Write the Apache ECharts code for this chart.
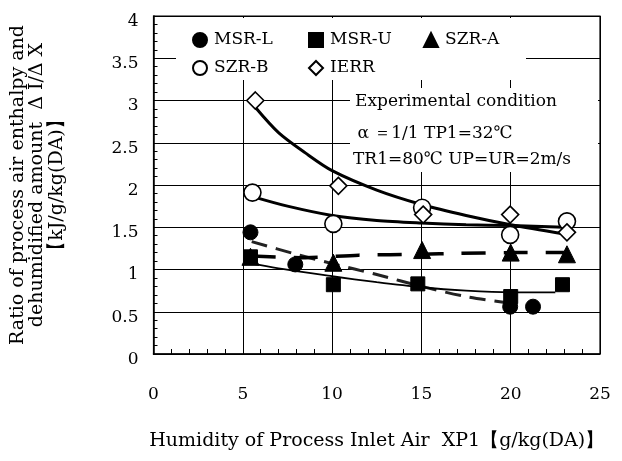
<!DOCTYPE html>
<html><head><meta charset="utf-8">
<script src="https://cdn.jsdelivr.net/npm/echarts@6/dist/echarts.min.js"></script>
<style>html,body{margin:0;padding:0;background:#fff}#c{width:622px;height:461px}</style>
</head><body><div id="c"></div>
<script>
// ---- data ----
const xTickValues = [0, 5, 10, 15, 20, 25];
const yTickValues = [0, 0.5, 1, 1.5, 2, 2.5, 3, 3.5, 4];
const seriesNames = ['MSR-L', 'MSR-U', 'SZR-A', 'SZR-B', 'IERR'];
// measured points [XP1, ratio]
const msrL = [[5.43, 1.44], [7.94, 1.06], [19.97, 0.56], [21.25, 0.56]];
const msrU = [[5.43, 1.15], [10.07, 0.82], [14.8, 0.83], [20.0, 0.68], [22.9, 0.82]];
const szrA = [[5.43, 1.15], [10.07, 1.08], [15.04, 1.23], [20.0, 1.2], [23.15, 1.18]];
const szrB = [[5.54, 1.91], [10.07, 1.54], [15.04, 1.73], [19.97, 1.41], [23.15, 1.57]];
const ierr = [[5.7, 3.0], [10.35, 1.99], [15.1, 1.65], [19.97, 1.65], [23.15, 1.44]];
// trend curves as traced on the picture
const msrLTrend = [[5.5, 1.33], [8, 1.18], [10, 1.07], [12.5, 0.94], [15, 0.8], [17.5, 0.68], [20, 0.6]];
const msrUTrend = [[5.5, 1.07], [8, 0.98], [10, 0.92], [12.5, 0.85], [15, 0.79], [17.5, 0.75], [20, 0.73], [22.5, 0.73]];
const szrATrend = [[5.5, 1.16], [8.5, 1.14], [11.5, 1.17], [15, 1.18], [17, 1.19], [20, 1.2], [23, 1.2]];
const szrBTrend = [[5.6, 1.86], [7.5, 1.75], [10, 1.64], [12.5, 1.58], [15, 1.55], [17.5, 1.53], [20, 1.52], [23, 1.5]];
const ierrTrend = [[5.7, 2.92], [7, 2.62], [8.5, 2.38], [10, 2.17], [12.5, 1.94], [15, 1.77], [17.5, 1.64], [20, 1.53], [23, 1.42]];
const annotationLines = ['Experimental condition', ' \u03b1 \uff1d1/1 TP1=32\u2103', 'TR1=80\u2103 UP=UR=2m/s'];
const xTitle = 'Humidity of Process Inlet Air  XP1\u3010g/kg(DA)\u3011';
const yTitle = 'Ratio of process air enthalpy and\ndehumidified amount  \u0394 I/\u0394 X\n\u3010kJ/g/kg(DA)\u3011';

const FONT = 'DejaVu Serif';
const chart = echarts.init(document.getElementById('c'), null, {renderer: 'canvas'});

function trend(name, data, width, type, color) {
  return {
    name: name, type: 'line', data: data, smooth: 0.3, showSymbol: false, silent: true, z: 2,
    lineStyle: {color: color || '#000', width: width, type: type || 'solid'}
  };
}
function pts(name, data, symbol, size, filled) {
  return {
    name: name, type: 'scatter', data: data, symbol: symbol, symbolSize: size, z: 3,
    itemStyle: filled ? {color: '#000', borderColor: '#000', borderWidth: 1, opacity: 1}
                      : {color: '#fff', borderColor: '#000', borderWidth: 1.6, opacity: 1}
  };
}
const legendCommon = {
  orient: 'vertical', top: 30, itemGap: 8, itemWidth: 14, itemHeight: 14, padding: 0,
  textStyle: {fontFamily: FONT, fontSize: 17, color: '#000', lineHeight: 20, padding: [0, 0, 0, 2]},
  selectedMode: false, z: 6
};

chart.setOption({
  animation: false,
  backgroundColor: '#fff',
  grid: {left: 153, right: 22, top: 16, bottom: 107, show: true, borderColor: '#000', borderWidth: 1.2},
  xAxis: {
    type: 'value', min: xTickValues[0], max: xTickValues[xTickValues.length - 1], interval: 5,
    axisLine: {lineStyle: {color: '#000', width: 1.5}},
    axisTick: {show: true, inside: true, length: 6, lineStyle: {color: '#000'}},
    minorTick: {show: true, splitNumber: 5, length: 5, lineStyle: {color: '#000'}},
    splitLine: {show: true, lineStyle: {color: '#000', width: 1}},
    axisLabel: {margin: 32, fontFamily: FONT, fontSize: 17, color: '#000'},
    name: xTitle, nameLocation: 'middle', nameGap: 78,
    nameTextStyle: {fontFamily: FONT, fontSize: 19, color: '#000'}
  },
  yAxis: {
    type: 'value', min: yTickValues[0], max: yTickValues[yTickValues.length - 1], interval: 0.5,
    axisLine: {show: true, lineStyle: {color: '#000', width: 1.5}},
    axisTick: {show: true, inside: true, length: 6, lineStyle: {color: '#000'}},
    minorTick: {show: true, splitNumber: 5, length: 4, lineStyle: {color: '#000'}},
    splitLine: {show: true, lineStyle: {color: '#000', width: 1}},
    axisLabel: {margin: 15, fontFamily: FONT, fontSize: 17, color: '#000', verticalAlign: 'top', lineHeight: 11},
    name: yTitle, nameLocation: 'middle', nameGap: 87, nameRotate: 90,
    nameTextStyle: {fontFamily: FONT, fontSize: 19, color: '#000', lineHeight: 19.5, align: 'center'}
  },
  legend: [
    Object.assign({left: 192, data: [{name: seriesNames[0], icon: 'circle'}, {name: seriesNames[3], icon: 'circle'}]}, legendCommon),
    Object.assign({left: 308, data: [{name: seriesNames[1], icon: 'rect'}, {name: seriesNames[4], icon: 'diamond'}]}, legendCommon),
    Object.assign({left: 423, data: [{name: seriesNames[2], icon: 'triangle'}]}, legendCommon)
  ],
  graphic: [
    {type: 'rect', z: 1, shape: {x: 176, y: 18, width: 350, height: 62}, style: {fill: '#fff'}},
    {type: 'rect', z: 1, shape: {x: 350, y: 88, width: 248, height: 84}, style: {fill: '#fff'}},
    {type: 'text', z: 5, left: 355, top: 93, style: {text: annotationLines[0], font: '17px "DejaVu Serif"', fill: '#000'}},
    {type: 'text', z: 5, left: 352, top: 125, style: {text: annotationLines[1], font: '17px "DejaVu Serif"', fill: '#000'}},
    {type: 'text', z: 5, left: 353, top: 151, style: {text: annotationLines[2], font: '17px "DejaVu Serif"', fill: '#000'}}
  ],
  series: [
    trend('msrLTrend', msrLTrend, 3, [16, 9], '#222'),
    trend('msrUTrend', msrUTrend, 1.8, 'solid'),
    trend('szrATrend', szrATrend, 3.5, [24, 18]),
    trend('szrBTrend', szrBTrend, 3, 'solid'),
    trend('ierrTrend', ierrTrend, 3, 'solid'),
    pts(seriesNames[2], szrA, 'triangle', 17, true),
    pts(seriesNames[1], msrU, 'rect', 14, true),
    pts(seriesNames[0], msrL, 'circle', 15, true),
    pts(seriesNames[3], szrB, 'circle', 17, false),
    pts(seriesNames[4], ierr, 'diamond', 17, false)
  ]
});
</script></body></html>
